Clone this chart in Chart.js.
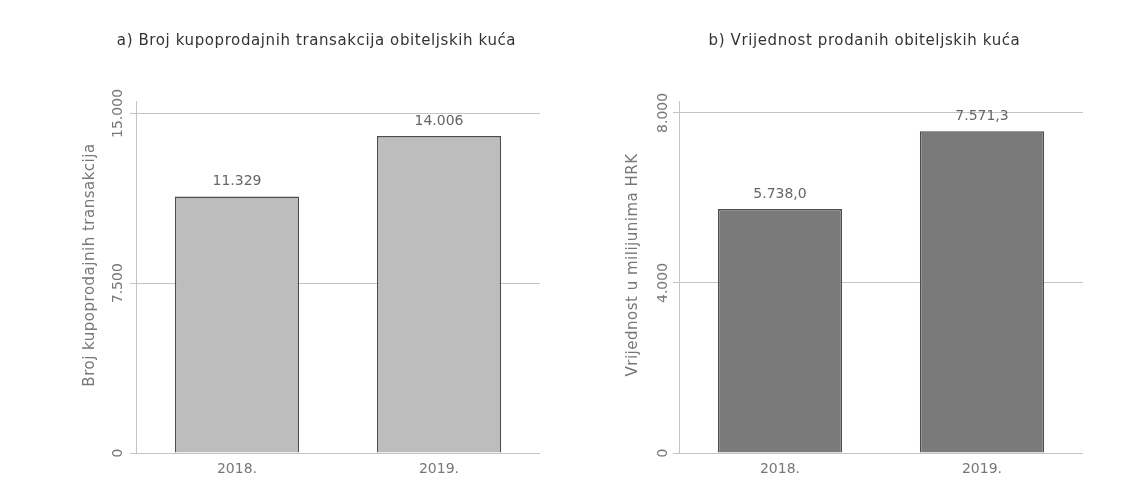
<!DOCTYPE html>
<html>
<head>
<meta charset="utf-8">
<script src="https://cdn.jsdelivr.net/npm/chart.js@4.4.1/dist/chart.umd.min.js"></script>
<style>
  body { margin: 0; background: #fff; }
  #wrap { position: relative; width: 1126px; height: 494px; }
  .panel { position: absolute; top: 0; }
</style>
</head>
<body>
<div id="wrap">
  <canvas id="chartA" class="panel" style="left:0" width="563" height="494"></canvas>
  <canvas id="chartB" class="panel" style="left:563px" width="563" height="494"></canvas>
</div>
<script>
// podaci
const years = ["2018.", "2019."];
const transakcije = [11329, 14006];
const vrijednost = [5738.0, 7571.3];
const ticksA = [0, 7500, 15000];
const ticksB = [0, 4000, 8000];

const FONT = "'DejaVu Sans', sans-serif";

// hrvatski format: 11.329 / 5.738,0
function fmt(v, dec) {
  const parts = v.toFixed(dec).split(".");
  const int = parts[0].replace(/\B(?=(\d{3})+(?!\d))/g, ".");
  return parts[1] ? int + "," + parts[1] : int;
}

const panelText = {
  id: "panelText",
  afterDraw(chart, args, o) {
    const { ctx, chartArea, scales } = chart;
    ctx.save();

    // naslov
    ctx.font = "15px " + FONT;
    ctx.letterSpacing = "0.6px";
    ctx.fillStyle = "#333";
    ctx.textAlign = "center";
    ctx.textBaseline = "middle";
    ctx.fillText(o.title, chartArea.left + o.titleOffset, 41);

    // naslov osi y
    ctx.font = "15px " + FONT;
    ctx.letterSpacing = "0.5px";
    ctx.fillStyle = "#777";
    ctx.save();
    ctx.translate(chartArea.left - 46, 265);
    ctx.rotate(-Math.PI / 2);
    ctx.fillText(o.yTitle, 0, 0);
    ctx.restore();

    // oznake osi y (okrenute)
    ctx.font = "14px " + FONT;
    ctx.letterSpacing = "0px";
    scales.y.ticks.forEach(t => {
      const y = scales.y.getPixelForValue(t.value);
      ctx.save();
      ctx.translate(chartArea.left - o.tickGap, y);
      ctx.rotate(-Math.PI / 2);
      ctx.fillText(fmt(t.value, 0), 0, 0);
      ctx.restore();
    });

    // vrijednosti iznad stupaca
    ctx.fillStyle = "#666";
    ctx.textBaseline = "bottom";
    const ds = chart.data.datasets[0];
    chart.getDatasetMeta(0).data.forEach((bar, i) => {
      ctx.fillText(fmt(ds.data[i], o.decimals), bar.x, bar.y - 8);
    });

    ctx.restore();
  }
};

function makeChart(id, o) {
  return new Chart(document.getElementById(id), {
    type: "bar",
    data: {
      labels: years,
      datasets: [{
        data: o.values,
        backgroundColor: o.color,
        borderColor: "#4d4d4d",
        borderWidth: 1.5,
        barPercentage: 0.615,
        categoryPercentage: 1
      }]
    },
    options: {
      responsive: false,
      animation: false,
      layout: { padding: { left: 0, right: o.padRight, top: 101, bottom: 6 } },
      plugins: {
        legend: { display: false },
        tooltip: { enabled: false },
        panelText: {
          title: o.title,
          titleOffset: o.titleOffset,
          yTitle: o.yTitle,
          tickGap: o.tickGap,
          decimals: o.decimals
        }
      },
      scales: {
        x: {
          grid: { display: false, drawTicks: false },
          border: { display: false },
          ticks: { color: "#777", font: { family: FONT, size: 14 }, padding: 8 },
          afterFit: s => { s.height = 35; }
        },
        y: {
          min: 0,
          max: o.max,
          afterBuildTicks: s => { s.ticks = o.ticks.map(v => ({ value: v })); },
          ticks: { display: false },
          grid: { color: "#c4c4c4", tickLength: 6, drawTicks: true },
          border: { color: "#c4c4c4" },
          afterFit: s => { s.width = o.axisLeft; }
        }
      }
    },
    plugins: [panelText]
  });
}

makeChart("chartA", {
  values: transakcije,
  color: "#bdbdbd",
  max: 15550,
  ticks: ticksA,
  axisLeft: 136,
  padRight: 23,
  title: "a) Broj kupoprodajnih transakcija obiteljskih kuća",
  titleOffset: 180.5,
  yTitle: "Broj kupoprodajnih transakcija",
  tickGap: 18,
  decimals: 0
});

makeChart("chartB", {
  values: vrijednost,
  color: "#7a7a7a",
  max: 8280,
  ticks: ticksB,
  axisLeft: 116,
  padRight: 43,
  title: "b) Vrijednost prodanih obiteljskih kuća",
  titleOffset: 185.5,
  yTitle: "Vrijednost u milijunima HRK",
  tickGap: 16,
  decimals: 1
});
</script>
</body>
</html>
